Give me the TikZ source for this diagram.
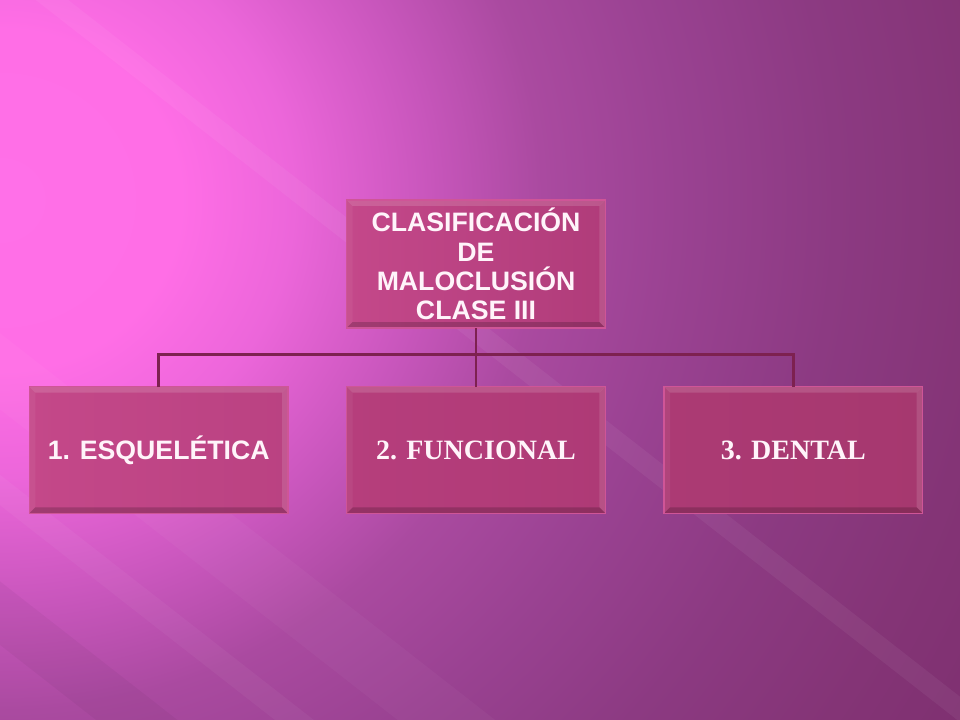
\documentclass[tikz,border=0pt]{standalone}
\usepackage{fontspec}
\setmainfont{Liberation Serif}
\setsansfont{Liberation Sans}
\usetikzlibrary{positioning}

% slide colours
\definecolor{bgA}{HTML}{FF70E8}
\definecolor{bgB}{HTML}{FF6EE6}
\definecolor{bgC}{HTML}{EC66DA}
\definecolor{bgD}{HTML}{C856BC}
\definecolor{bgE}{HTML}{AA4AA0}
\definecolor{bgF}{HTML}{9A4292}
\definecolor{bgG}{HTML}{8C3A82}
\definecolor{bgH}{HTML}{843476}
\definecolor{bgI}{HTML}{7E3070}
\definecolor{topL}{HTML}{C4488A}
\definecolor{topR}{HTML}{B03C7A}
\definecolor{esqL}{HTML}{C44889}
\definecolor{esqR}{HTML}{BA4282}
\definecolor{funcL}{HTML}{B63E7C}
\definecolor{funcR}{HTML}{AE3A76}
\definecolor{dentL}{HTML}{AC3A74}
\definecolor{dentR}{HTML}{A6386F}
\definecolor{boxrim}{HTML}{CF5597}
\definecolor{linkcol}{HTML}{7D2150}
\definecolor{textcol}{HTML}{FFF4FA}

\pgfdeclareradialshading{slideglow}{\pgfpoint{0bp}{0bp}}{%
  color(0bp)=(bgA); color(3.6bp)=(bgB); color(5.85bp)=(bgC); color(8.55bp)=(bgD);
  color(10.8bp)=(bgE); color(13.5bp)=(bgF); color(16.65bp)=(bgG); color(19.8bp)=(bgH);
  color(22.5bp)=(bgI); color(50bp)=(bgI)}

\begin{document}
\begin{tikzpicture}[
    x=0.75pt, y=-0.75pt,
    node distance=44pt and 44pt, % gap between boxes
    boxnode/.style={rectangle, draw=boxrim, line width=0.8pt, outer sep=0pt,
      minimum width=194pt, minimum height=95pt, inner sep=2pt,
      align=center, text=textcol, bevel},
    bevel/.style={path picture={
      \fill[white, opacity=.14] (path picture bounding box.north west)
        -- (path picture bounding box.north east)
        -- ([xshift=-4.5pt,yshift=-4.5pt]path picture bounding box.north east)
        -- ([xshift=4.5pt,yshift=-4.5pt]path picture bounding box.north west) -- cycle;
      \fill[white, opacity=.12] (path picture bounding box.north east)
        -- (path picture bounding box.south east)
        -- ([xshift=-4.5pt,yshift=4.5pt]path picture bounding box.south east)
        -- ([xshift=-4.5pt,yshift=-4.5pt]path picture bounding box.north east) -- cycle;
      \fill[white, opacity=.05] (path picture bounding box.north west)
        -- (path picture bounding box.south west)
        -- ([xshift=4.5pt,yshift=4.5pt]path picture bounding box.south west)
        -- ([xshift=4.5pt,yshift=-4.5pt]path picture bounding box.north west) -- cycle;
      \fill[black, opacity=.18] (path picture bounding box.south west)
        -- (path picture bounding box.south east)
        -- ([xshift=-4.5pt,yshift=4.5pt]path picture bounding box.south east)
        -- ([xshift=4.5pt,yshift=4.5pt]path picture bounding box.south west) -- cycle;
    }},
    sanslabel/.style={font=\sffamily\bfseries\fontsize{20}{22}\selectfont},
    seriflabel/.style={font=\rmfamily\bfseries\fontsize{21}{24}\selectfont},
    link/.style={draw=linkcol, line width=2pt}
  ]

  % background
  \useasboundingbox (0,0) rectangle (960,720);
  \begin{scope}
    \clip (0,0) rectangle (960,720);
    \fill[bgI] (0,0) rectangle (960,720);
    \begin{scope}[shift={(0,200)}, rotate=-36, xscale=1.15]
      \shade[shading=slideglow] (0,0) circle (1000);
    \end{scope}
    \begin{scope}[shift={(500,350)}, rotate=-38]
      \fill[white, opacity=.05] (-1500,-10) rectangle (1500,10);
    \end{scope}
    \begin{scope}[shift={(0,490)}, rotate=-38]
      \fill[white, opacity=.04] (-1500,-12) rectangle (1500,12);
    \end{scope}
    \begin{scope}[shift={(280,590)}, rotate=-38]
      \fill[white, opacity=.03] (-1500,-30) rectangle (1500,30);
    \end{scope}
    \begin{scope}[shift={(60,660)}, rotate=-38]
      \fill[black, opacity=.035] (-1500,-25) rectangle (1500,25);
    \end{scope}
  \end{scope}

  % Nodes
  \node (top) [boxnode, sanslabel, minimum height=96pt,
    left color=topL, right color=topR]
    at (476,264) {CLASIFICACIÓN\\DE\\MALOCLUSIÓN\\CLASE III};
  \node (func) [boxnode, seriflabel, below=of top,
    left color=funcL, right color=funcR] {2. FUNCIONAL};
  \node (esq) [boxnode, sanslabel, left=of func,
    left color=esqL, right color=esqR] {1. ESQUELÉTICA};
  \node (dent) [boxnode, seriflabel, right=of func,
    left color=dentL, right color=dentR] {3. DENTAL};

  % Connectors
  \draw[link] (top.south) -- (func.north);
  \draw[link] (esq.north) -- ++(0,24pt) -| (dent.north);

\end{tikzpicture}
\end{document}
